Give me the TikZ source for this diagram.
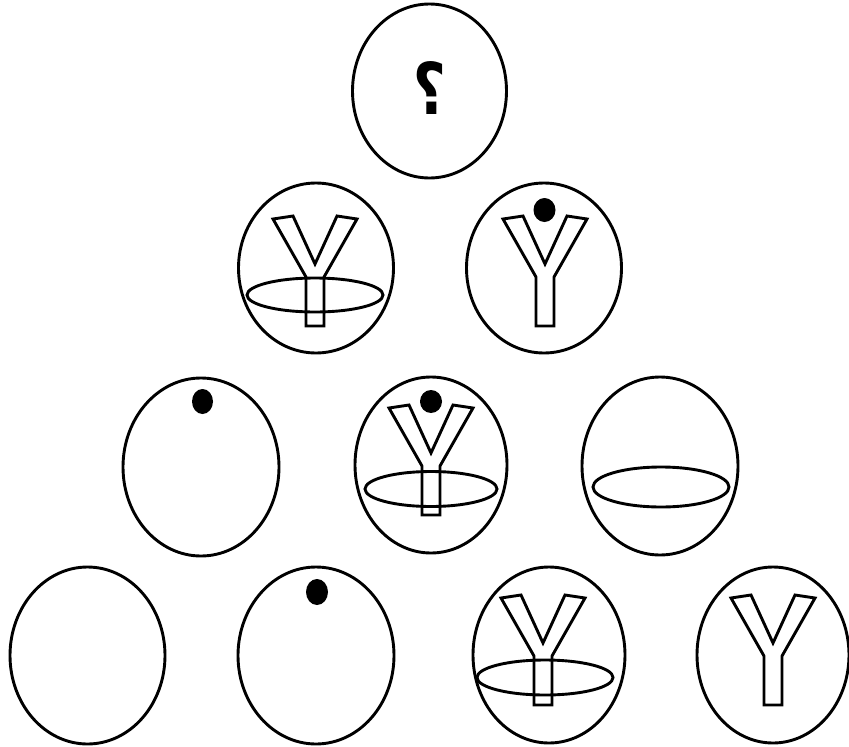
\documentclass[tikz,border=0pt]{standalone}
\usepackage{fontspec}
\usepackage{graphicx}
\setmainfont{DejaVu Sans}
\usetikzlibrary{shapes.geometric}
\tikzset{
  ln/.style={line width=2.9pt, black},
  cell/.style={ln, draw, ellipse, inner sep=0pt, minimum width=#1},
  ring/.style={ln, draw, ellipse, inner sep=0pt},
  ball/.style={fill=black, draw=none, ellipse, inner sep=0pt},
  yshape/.pic={\draw[ln, line join=miter] (-42,0) -- (-22,-3) -- (0,45) -- (22,-3) -- (42,0) -- (9,58) -- (9,107) -- (-9,107) -- (-9,58) -- cycle;}
}
\begin{document}
\begin{tikzpicture}[x=1pt, y=-1pt]
\useasboundingbox (0,0) rectangle (849,747);
% outer cells
\node[cell=154pt, minimum height=174pt] (top) at (429.5,91) {};
\node[cell=155pt, minimum height=170pt] (r2a) at (316,268) {};
\node[cell=155pt, minimum height=170pt] (r2b) at (544,268) {};
\node[cell=156pt, minimum height=178pt] (r3a) at (201,467) {};
\node[cell=152pt, minimum height=176pt] (r3b) at (431,465) {};
\node[cell=156pt, minimum height=178pt] (r3c) at (660,466) {};
\node[cell=155pt, minimum height=177pt] (r4a) at (87.5,655.5) {};
\node[cell=156pt, minimum height=177pt] (r4b) at (316,655.5) {};
\node[cell=152pt, minimum height=176pt] (r4c) at (549,655) {};
\node[cell=152pt, minimum height=176pt] (r4d) at (773,655) {};
% question mark
\node[inner sep=0pt] (q) at (430,87.5) {\scalebox{-1}[1]{\resizebox{33pt}{53pt}{\bfseries ?}}};
% rings
\node[ring, minimum width=136pt, minimum height=34pt] (ring2a) at (315,295) {};
\node[ring, minimum width=132pt, minimum height=35pt] (ring3b) at (431,489) {};
\node[ring, minimum width=136pt, minimum height=40pt] (ring3c) at (661,487) {};
\node[ring, minimum width=136pt, minimum height=35pt] (ring4c) at (545,677.5) {};
% Y shapes
\pic (y2a) at (315,219) {yshape};
\pic (y2b) at (545,219) {yshape};
\pic (y3b) at (431,408) {yshape};
\pic (y4c) at (543,598) {yshape};
\pic (y4d) at (773,598) {yshape};
% dots
\node[ball, minimum width=22pt, minimum height=24pt] (d2b) at (544.5,210) {};
\node[ball, minimum width=21pt, minimum height=25pt] (d3a) at (202.5,401.5) {};
\node[ball, minimum width=22pt, minimum height=23pt] (d3b) at (431,401.5) {};
\node[ball, minimum width=22pt, minimum height=26pt] (d4b) at (317,592) {};
\end{tikzpicture}
\end{document}
